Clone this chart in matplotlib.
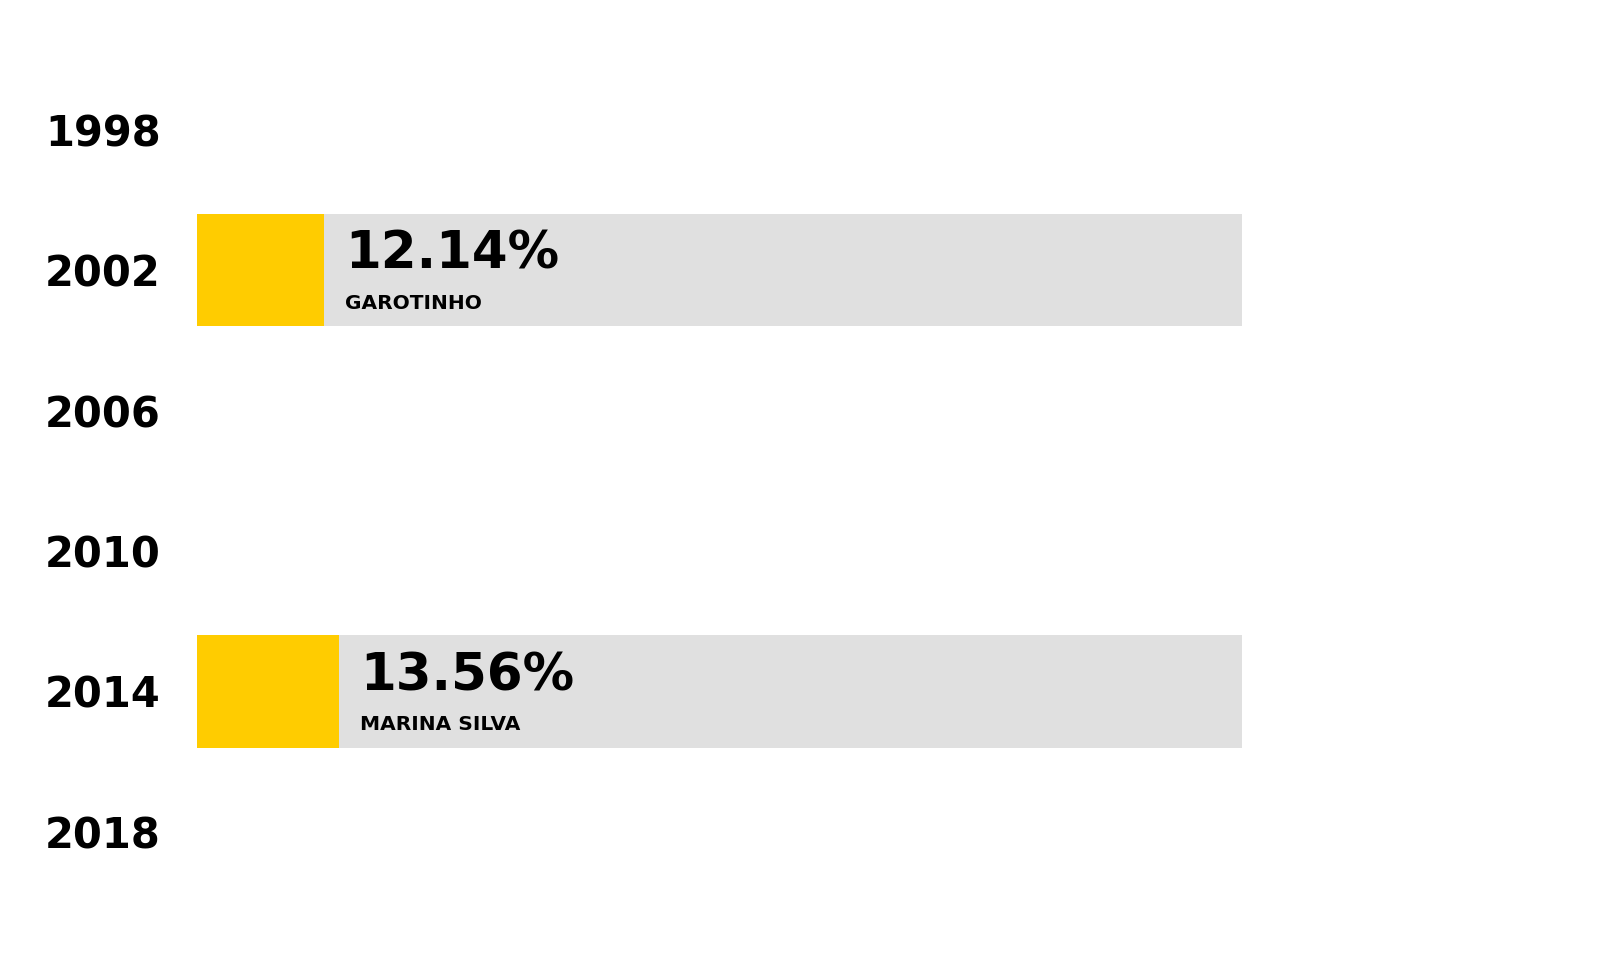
import matplotlib
matplotlib.use("Agg")
import matplotlib.pyplot as plt
import numpy as np

years = ['1998', '2002', '2006', '2010', '2014', '2018']
share = [np.nan, 12.14, np.nan, np.nan, 13.56, np.nan]
names = ['', 'GAROTINHO', '', '', 'MARINA SILVA', '']
total = 100

yellow = '#FFCC00'
grey = '#E0E0E0'

fig = plt.figure(figsize=(16, 9.6), dpi=100)
ax = fig.add_axes([0.1231, 0.0604, 0.6531, 0.8777])

pos = np.arange(len(years))
has = ~np.isnan(share)
ax.barh(pos[has], [total] * has.sum(), height=0.8, color=grey, zorder=1)
ax.barh(pos[has], np.array(share)[has], height=0.8, color=yellow, zorder=2)

for p, v, n in zip(pos, share, names):
    if np.isnan(v):
        continue
    ax.annotate(f'{v:.2f}%', xy=(v, p), xytext=(15.5, 11), textcoords='offset points',
                ha='left', va='center', fontsize=37, fontweight='bold', color='black')
    ax.annotate(n, xy=(v, p), xytext=(15.5, -24), textcoords='offset points',
                ha='left', va='center', fontsize=14.5, fontweight='bold', color='black')

ax.set_xlim(0, total)
ax.set_ylim(len(years) - 0.5, -0.5)
ax.set_yticks(pos)
ax.set_yticklabels(years, fontsize=30, fontweight='bold')
ax.tick_params(axis='y', length=0, pad=26)
ax.set_xticks([])
for s in ax.spines.values():
    s.set_visible(False)

fig.savefig('out.png', dpi=100, facecolor='white')
